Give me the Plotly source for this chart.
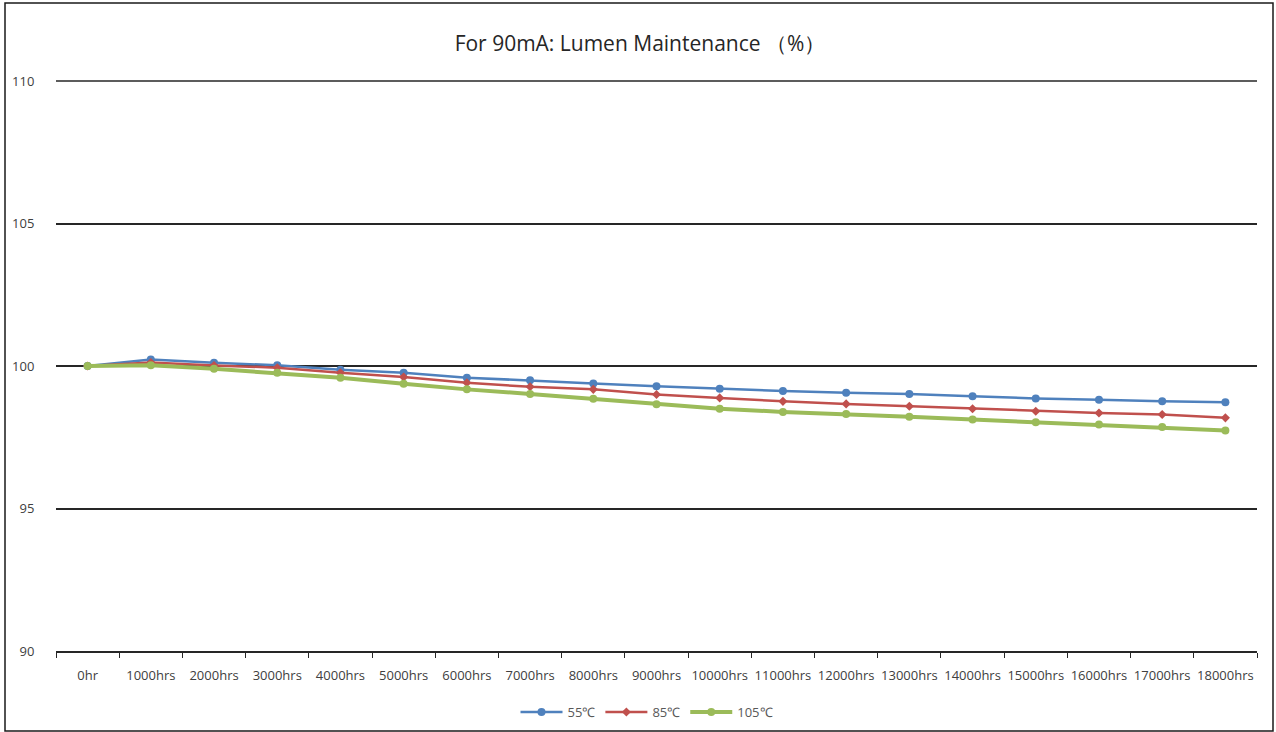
import plotly.graph_objects as go

# Aging time points (categories on the x axis)
hours = ["0hr", "1000hrs", "2000hrs", "3000hrs", "4000hrs", "5000hrs", "6000hrs",
         "7000hrs", "8000hrs", "9000hrs", "10000hrs", "11000hrs", "12000hrs",
         "13000hrs", "14000hrs", "15000hrs", "16000hrs", "17000hrs", "18000hrs"]

# Lumen maintenance (%) per case temperature
lm_55 = [100.0, 100.23, 100.11, 100.03, 99.87, 99.76, 99.59, 99.50, 99.39, 99.29,
         99.20, 99.12, 99.06, 99.02, 98.94, 98.86, 98.82, 98.76, 98.73]
lm_85 = [100.0, 100.12, 100.02, 99.94, 99.76, 99.61, 99.41, 99.27, 99.18, 99.00,
         98.88, 98.76, 98.67, 98.59, 98.50, 98.41, 98.35, 98.30, 98.18]
lm_105 = [100.0, 100.03, 99.90, 99.76, 99.59, 99.38, 99.18, 99.02, 98.85, 98.66,
          98.50, 98.39, 98.32, 98.22, 98.12, 98.03, 97.95, 97.86, 97.74]

series = [
    ("55℃", lm_55, "#4F81BD", "circle", 8, 2.5),
    ("85℃", lm_85, "#C0504D", "diamond", 7, 2.5),
    ("105℃", lm_105, "#9BBB59", "circle", 8, 4),
]

Y_MIN, Y_MAX = 90, 110
FONT = "Open Sans"

fig = go.Figure()
for name, vals, color, sym, msize, lw in series:
    fig.add_trace(go.Scatter(
        x=hours, y=vals, name=name, mode="lines+markers",
        line=dict(color=color, width=lw),
        marker=dict(color=color, symbol=sym, size=msize),
    ))

W, H = 1276, 732
L, R, T, B = 56, 19, 81, 81
pw, ph = W - L - R, H - T - B

def px_x(x):
    return (x - L) / pw

def px_y(y):
    return (H - B - y) / ph

GRID = "#262626"

fig.update_layout(
    width=W, height=H,
    margin=dict(l=L, r=R, t=T, b=B, autoexpand=False),
    paper_bgcolor="white", plot_bgcolor="white",
    font=dict(family=FONT, color="#404040", size=13),
    title=dict(text="For 90mA: Lumen Maintenance （%）",
               x=640 / W, xanchor="center", y=1 - 44 / H, yanchor="middle",
               font=dict(family=FONT, size=21, color="#262626")),
    showlegend=True,
    legend=dict(orientation="h", x=px_x(647), xanchor="center",
                y=px_y(712), yanchor="middle",
                font=dict(family=FONT, size=13, color="#595959"),
                itemwidth=42, bgcolor="rgba(0,0,0,0)"),
    xaxis=dict(
        type="category", tickangle=0, automargin=False,
        showline=True, linecolor=GRID, linewidth=1.5,
        ticks="outside", tickson="boundaries", ticklen=5, tickcolor=GRID,
        ticklabelstandoff=12,
        showgrid=False, tickfont=dict(family=FONT, size=13, color="#404040"),
        range=[-0.5, len(hours) - 0.5],
    ),
    yaxis=dict(
        range=[Y_MIN, Y_MAX], dtick=5, tickmode="linear", automargin=False,
        showgrid=True, gridcolor=GRID, gridwidth=1.5,
        zeroline=False, showline=False,
        ticks="outside", ticklen=18, tickcolor="rgba(0,0,0,0)",
        tickfont=dict(family=FONT, size=13, color="#404040"),
    ),
    shapes=[
        # top gridline (sits on the plot edge, so plotly skips it)
        dict(type="line", xref="paper", yref="paper", x0=0, x1=1, y0=1, y1=1,
             line=dict(color=GRID, width=1.5), layer="below"),
        # chart frame
        dict(type="rect", xref="paper", yref="paper",
             x0=px_x(5), x1=px_x(1273), y0=px_y(731), y1=px_y(3),
             line=dict(color="#1a1a1a", width=1.5), layer="below"),
    ],
)

fig.write_html("out.html")
